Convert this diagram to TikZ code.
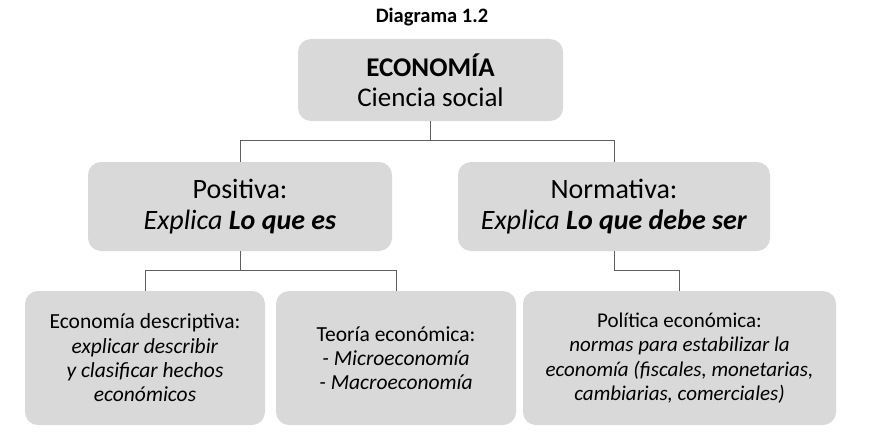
\documentclass[tikz,border=0pt]{standalone}
\usepackage{fontspec}
\setmainfont{Carlito}
\begin{document}
\begin{tikzpicture}[x=1pt,y=-1pt,
  box/.style={fill=boxgray, rounded corners=13pt, align=center, inner sep=0pt, text=black},
  conn/.style={draw=linegray, line width=0.9pt}]
\definecolor{boxgray}{RGB}{217,217,217}
\definecolor{linegray}{RGB}{95,95,95}
\useasboundingbox (0,0) rectangle (882,444);
\node[font=\bfseries\fontsize{20.5}{24}\selectfont] (title) at (432,17) {Diagrama 1.2};
\node[box, minimum width=265pt, minimum height=82pt, font=\fontsize{27}{30}\selectfont] (top) at (430.5,80)
  {\textbf{ECONOMÍA}\\Ciencia social};
\node[box, minimum width=304pt, minimum height=89pt, font=\fontsize{28}{31}\selectfont] (pos) at (240,206.5)
  {Positiva:\\\textit{Explica \textbf{Lo que es}}};
\node[box, minimum width=312pt, minimum height=89pt, font=\fontsize{28}{31}\selectfont] (norm) at (614,206.5)
  {Normativa:\\\textit{Explica \textbf{Lo que debe ser}}};
\node[box, minimum width=240pt, minimum height=134pt, font=\fontsize{21.5}{24.3}\selectfont] (b1) at (145,358)
  {Economía descriptiva:\\\textit{explicar describir}\\\textit{y clasificar hechos}\\\textit{económicos}};
\node[box, minimum width=240pt, minimum height=134pt, font=\fontsize{21.5}{24.3}\selectfont] (b2) at (396,358)
  {Teoría económica:\\\textit{- Microeconomía}\\\textit{- Macroeconomía}};
\node[box, minimum width=313pt, minimum height=134pt, font=\fontsize{21}{24.3}\selectfont] (b3) at (679.5,358)
  {Política económica:\\\textit{normas para estabilizar la}\\\textit{economía (fiscales, monetarias,}\\\textit{cambiarias, comerciales)}};
\coordinate (j1) at (430.5,140);
\coordinate (j2) at (240,270);
\draw[conn] (top.south) -- (j1) -| (pos.north);
\draw[conn] (j1) -| (norm.north);
\draw[conn] (pos.south) -- (j2) -| (b1.north);
\draw[conn] (j2) -| (b2.north);
\draw[conn] (norm.south) -- ++(0,19) -| (b3.north);
\end{tikzpicture}
\end{document}
